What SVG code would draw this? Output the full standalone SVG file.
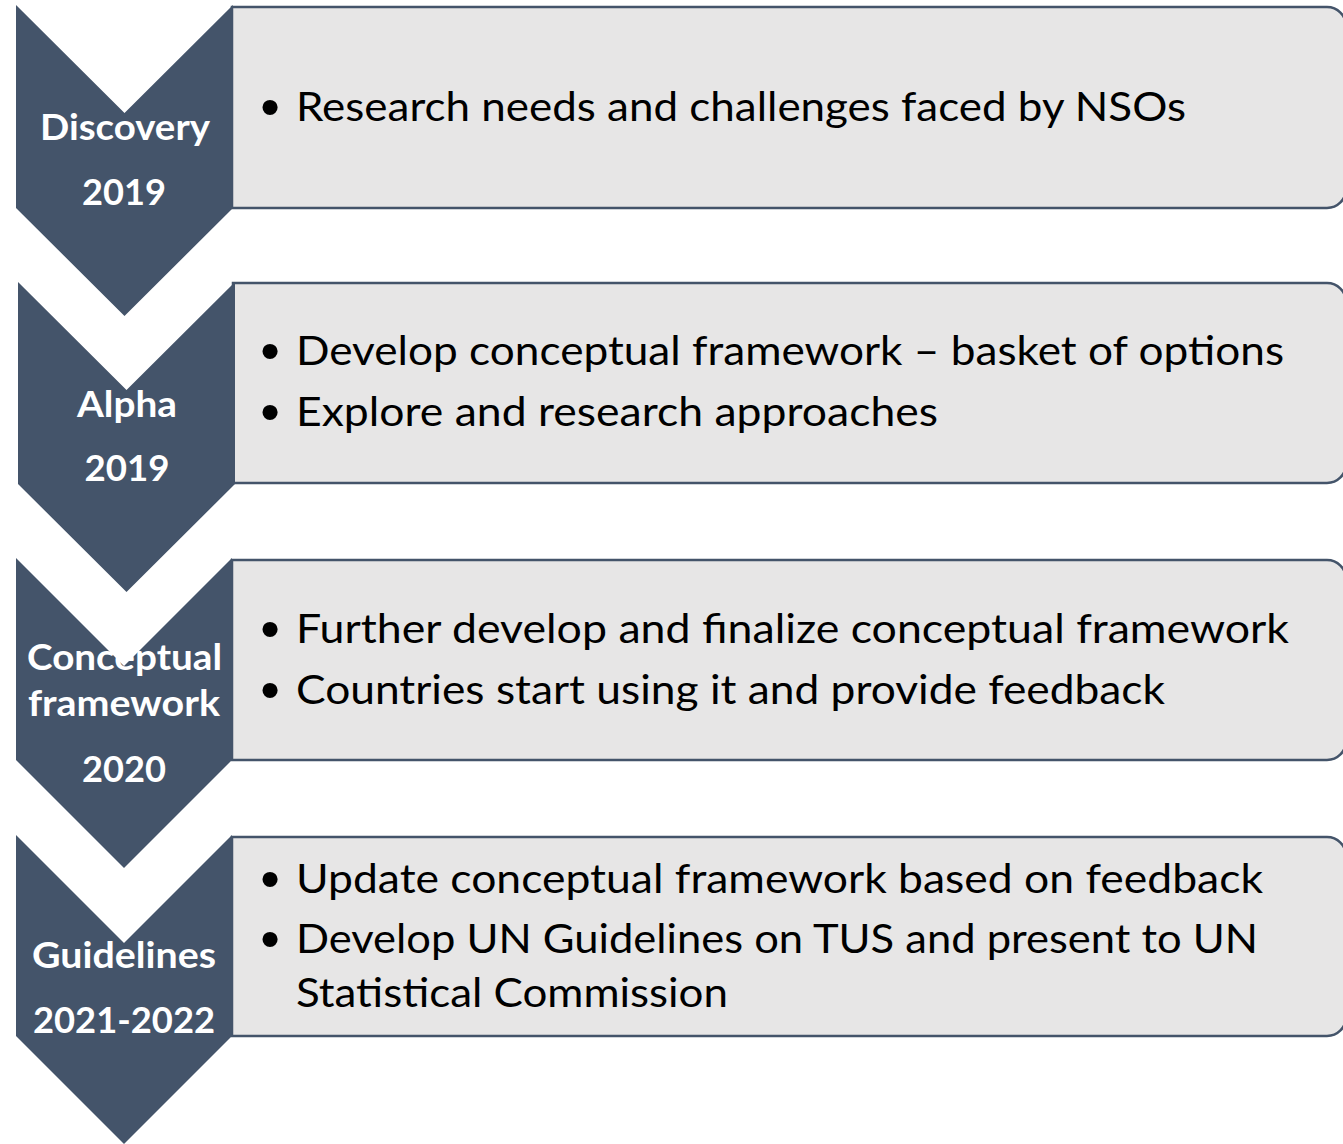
<svg xmlns="http://www.w3.org/2000/svg" width="1343" height="1144" viewBox="0 0 1343 1144">
<style>
.box{fill:#E7E6E6;stroke:#44546A;stroke-width:2.5}
.chev{fill:#44546A}
.lbl{font-family:Lato,"Liberation Sans",sans-serif;font-weight:bold;font-size:37px;fill:#FFFFFF;text-anchor:middle}
.txt{font-family:Lato,"Liberation Sans",sans-serif;font-size:40px;fill:#000000}
.bul{font-family:"Liberation Sans",sans-serif;font-size:56px;fill:#000000;text-anchor:middle}
</style>
<rect width="1343" height="1144" fill="#FFFFFF"/>
<g id="step1">
<path class="box" d="M232,7 H1327 A19,19 0 0 1 1346,26 V189 A19,19 0 0 1 1327,208 H232 Z"/>
<path class="chev" d="M16,5 L124.5,113 L233,5 L233,208 L124.5,316 L16,208 Z"/>
<text class="lbl" x="125" y="140" textLength="170" lengthAdjust="spacingAndGlyphs">Discovery</text>
<text class="lbl" x="124" y="205" textLength="84" lengthAdjust="spacingAndGlyphs">2019</text>
<text class="bul" x="270" y="126">•</text>
<text class="txt" x="296" y="121" textLength="890" lengthAdjust="spacingAndGlyphs">Research needs and challenges faced by NSOs</text>
</g>
<g id="step2">
<path class="box" d="M233,283 H1327 A19,19 0 0 1 1346,302 V464 A19,19 0 0 1 1327,483 H233 Z"/>
<path class="chev" d="M18,282 L126.5,390 L235,282 L235,484 L126.5,592 L18,484 Z"/>
<text class="lbl" x="127" y="417" textLength="100" lengthAdjust="spacingAndGlyphs">Alpha</text>
<text class="lbl" x="127" y="481" textLength="85" lengthAdjust="spacingAndGlyphs">2019</text>
<text class="bul" x="270" y="370">•</text>
<text class="txt" x="296" y="365" textLength="988" lengthAdjust="spacingAndGlyphs">Develop conceptual framework – basket of options</text>
<text class="bul" x="270" y="431">•</text>
<text class="txt" x="296" y="426" textLength="642" lengthAdjust="spacingAndGlyphs">Explore and research approaches</text>
</g>
<g id="step3">
<path class="box" d="M232,560 H1327 A19,19 0 0 1 1346,579 V741 A19,19 0 0 1 1327,760 H232 Z"/>
<path class="chev" d="M16,558 L124,666 L232,558 L232,760 L124,868 L16,760 Z"/>
<text class="lbl" x="124.5" y="670" textLength="195" lengthAdjust="spacingAndGlyphs">Conceptual</text>
<text class="lbl" x="124" y="716" textLength="192" lengthAdjust="spacingAndGlyphs">framework</text>
<text class="lbl" x="124" y="782" textLength="84" lengthAdjust="spacingAndGlyphs">2020</text>
<text class="bul" x="270" y="648">•</text>
<text class="txt" x="296" y="643" textLength="993" lengthAdjust="spacingAndGlyphs">Further develop and finalize conceptual framework</text>
<text class="bul" x="270" y="709">•</text>
<text class="txt" x="296" y="704" textLength="869" lengthAdjust="spacingAndGlyphs">Countries start using it and provide feedback</text>
</g>
<g id="step4">
<path class="box" d="M232,837 H1327 A19,19 0 0 1 1346,856 V1017 A19,19 0 0 1 1327,1036 H232 Z"/>
<path class="chev" d="M16,835 L124,943 L232,835 L232,1036 L124,1144 L16,1036 Z"/>
<text class="lbl" x="124" y="968" textLength="184" lengthAdjust="spacingAndGlyphs">Guidelines</text>
<text class="lbl" x="124" y="1033" textLength="182" lengthAdjust="spacingAndGlyphs">2021-2022</text>
<text class="bul" x="270" y="898">•</text>
<text class="txt" x="296" y="893" textLength="967" lengthAdjust="spacingAndGlyphs">Update conceptual framework based on feedback</text>
<text class="bul" x="270" y="958">•</text>
<text class="txt" x="296" y="953" textLength="962" lengthAdjust="spacingAndGlyphs">Develop UN Guidelines on TUS and present to UN</text>
<text class="txt" x="296" y="1007" textLength="432" lengthAdjust="spacingAndGlyphs">Statistical Commission</text>
</g>
<g id="connectors"></g>
</svg>
